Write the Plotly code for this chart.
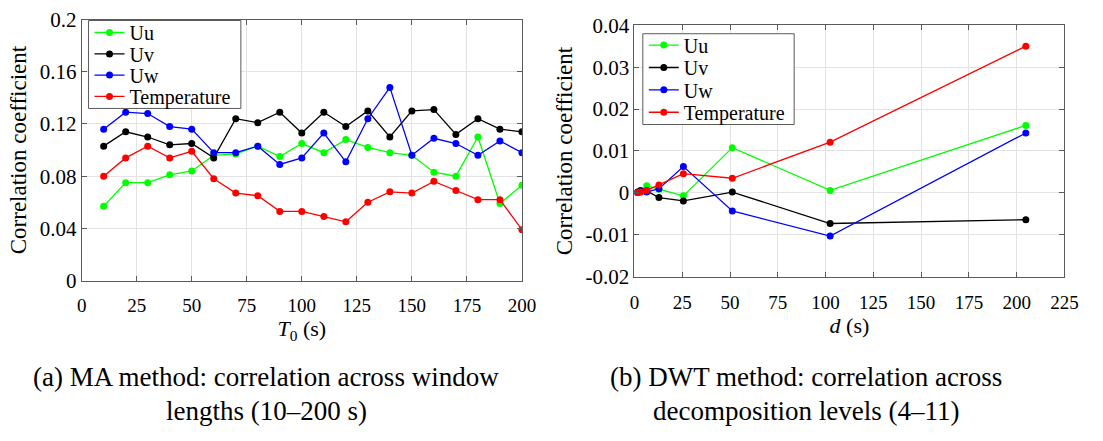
import plotly.graph_objects as go

# ---------------- data ----------------
series_names = ["Uu", "Uv", "Uw", "Temperature"]
series_colors = ["#00ff00", "#000000", "#0000ff", "#ff0000"]

# (a) MA method
ma_T0 = [10, 20, 30, 40, 50, 60, 70, 80, 90, 100, 110, 120, 130, 140, 150, 160, 170, 180, 190, 200]
ma_Uu = [0.057, 0.075, 0.075, 0.081, 0.084, 0.096, 0.097, 0.103, 0.095, 0.105, 0.098, 0.108,
         0.102, 0.098, 0.096, 0.083, 0.080, 0.110, 0.059, 0.073]
ma_Uv = [0.103, 0.114, 0.110, 0.104, 0.105, 0.094, 0.124, 0.121, 0.129, 0.113, 0.129, 0.118,
         0.130, 0.110, 0.130, 0.131, 0.112, 0.124, 0.116, 0.114]
ma_Uw = [0.116, 0.129, 0.128, 0.118, 0.116, 0.098, 0.098, 0.103, 0.089, 0.094, 0.113, 0.091,
         0.124, 0.148, 0.096, 0.109, 0.105, 0.096, 0.107, 0.098]
ma_Temp = [0.080, 0.094, 0.103, 0.094, 0.099, 0.078, 0.067, 0.065, 0.053, 0.053, 0.049, 0.045,
           0.060, 0.068, 0.067, 0.076, 0.069, 0.062, 0.062, 0.039]

# (b) DWT method
dwt_d = [1.6, 3.2, 6.4, 12.8, 25.6, 51.2, 102.4, 204.8]
dwt_Uu = [0.0001, 0.0004, 0.0017, 0.0009, -0.0007, 0.0108, 0.0006, 0.0161]
dwt_Uv = [0.0002, 0.0006, 0.0005, -0.0011, -0.0019, 0.0002, -0.0073, -0.0064]
dwt_Uw = [0.0001, 0.0003, 0.0002, 0.0010, 0.0063, -0.0043, -0.0103, 0.0143]
dwt_Temp = [0.0001, 0.0002, 0.0006, 0.0019, 0.0046, 0.0035, 0.0121, 0.0350]

left_yticks = [0, 0.04, 0.08, 0.12, 0.16, 0.2]
left_yticktext = ["0", "0.04", "0.08", "0.12", "0.16", "0.2"]
right_yticks = [-0.02, -0.01, 0, 0.01, 0.02, 0.03, 0.04]
right_yticktext = ["-0.02", "-0.01", "0", "0.01", "0.02", "0.03", "0.04"]

caption_a = ["(a) MA method: correlation across window", "lengths (10–200 s)"]
caption_b = ["(b) DWT method: correlation across", "decomposition levels (4–11)"]

# ---------------- layout geometry (pixels) ----------------
W, H = 1103, 441
FONT = "Liberation Serif"
AXC = "#5a5a5a"

def px_x(p): return p / W
def px_y(p): return 1 - p / H

left_box = dict(x0=85, x1=240, y0=9, y1=102)
left_rows = [21.7, 44.3, 66.7, 89.3]
right_box = dict(x0=649, x1=803, y0=23, y1=119)
right_rows = [35, 58.7, 82.3, 106]

fig = go.Figure()

ma_series = [ma_Uu, ma_Uv, ma_Uw, ma_Temp]
dwt_series = [dwt_Uu, dwt_Uv, dwt_Uw, dwt_Temp]

legend_defs = {}
k = 2
for name, color, ys, row in zip(series_names, series_colors, ma_series, left_rows):
    lname = f"legend{k}"
    fig.add_trace(go.Scatter(x=ma_T0, y=ys, mode="lines+markers", name=name,
                             line=dict(color=color, width=1.3),
                             marker=dict(color=color, size=7),
                             xaxis="x", yaxis="y", legend=lname))
    legend_defs[lname] = dict(x=px_x(left_box["x0"] + 1), y=px_y(row), xanchor="left",
                              yanchor="middle", bgcolor="rgba(0,0,0,0)", borderwidth=0,
                              font=dict(family=FONT, size=20, color="black"))
    k += 1
for name, color, ys, row in zip(series_names, series_colors, dwt_series, right_rows):
    lname = f"legend{k}"
    fig.add_trace(go.Scatter(x=dwt_d, y=ys, mode="lines+markers", name=name,
                             line=dict(color=color, width=1.3),
                             marker=dict(color=color, size=7),
                             xaxis="x2", yaxis="y2", legend=lname))
    legend_defs[lname] = dict(x=px_x(right_box["x0"] + 1), y=px_y(row), xanchor="left",
                              yanchor="middle", bgcolor="rgba(0,0,0,0)", borderwidth=0,
                              font=dict(family=FONT, size=20, color="black"))
    k += 1

axis_common = dict(showline=True, linecolor=AXC, linewidth=1, mirror="ticks",
                   ticks="inside", ticklen=5, tickcolor=AXC,
                   showgrid=True, gridcolor="#e3e3e3", gridwidth=1, zeroline=False)

shapes = []
for b in (left_box, right_box):
    shapes.append(dict(type="rect", xref="paper", yref="paper", layer="above",
                       x0=px_x(b["x0"]), x1=px_x(b["x1"]), y0=px_y(b["y1"]), y1=px_y(b["y0"]),
                       line=dict(color=AXC, width=1), fillcolor="white"))

annotations = []
for lines, cx in ((caption_a, 266), (caption_b, 815)):
    for txt, cy in zip(lines, (386, 422)):
        annotations.append(dict(text=txt, x=px_x(cx), y=px_y(cy), xref="paper", yref="paper",
                                xanchor="center", yanchor="middle", showarrow=False,
                                font=dict(family=FONT, size=27, color="black")))

fig.update_layout(
    width=W, height=H,
    margin=dict(l=0, r=0, t=0, b=0),
    paper_bgcolor="white", plot_bgcolor="white",
    font=dict(family=FONT, color="black", size=20),
    showlegend=True,
    xaxis=dict(domain=[px_x(78), px_x(526)], range=[0, 200], dtick=25, tick0=0,
               anchor="y", tickfont=dict(size=19, family=FONT, color="black"), ticklabelstandoff=8,
               title=dict(text="<i>T</i><sub>0</sub> (s)", font=dict(size=22, family=FONT, color="black"), standoff=4),
               **axis_common),
    yaxis=dict(domain=[px_y(284), px_y(8)], range=[0, 0.2], tickvals=left_yticks,
               ticktext=left_yticktext, anchor="x", tickfont=dict(size=21, family=FONT, color="black"),
               title=dict(text="Correlation coefficient", font=dict(size=23, family=FONT, color="black"), standoff=6),
               **axis_common),
    xaxis2=dict(domain=[px_x(640.5), px_x(1078)], range=[0, 225], dtick=25, tick0=0,
                anchor="y2", tickfont=dict(size=19, family=FONT, color="black"), ticklabelstandoff=8,
                title=dict(text="<i>d</i> (s)", font=dict(size=22, family=FONT, color="black"), standoff=4),
                **axis_common),
    yaxis2=dict(domain=[px_y(280), px_y(14)], range=[-0.02, 0.04], tickvals=right_yticks,
                ticktext=right_yticktext, anchor="x2", tickfont=dict(size=21, family=FONT, color="black"),
                title=dict(text="Correlation coefficient", font=dict(size=23, family=FONT, color="black"), standoff=6),
                **axis_common),
    shapes=shapes,
    annotations=annotations,
    **legend_defs,
)

fig.write_html("out.html")
